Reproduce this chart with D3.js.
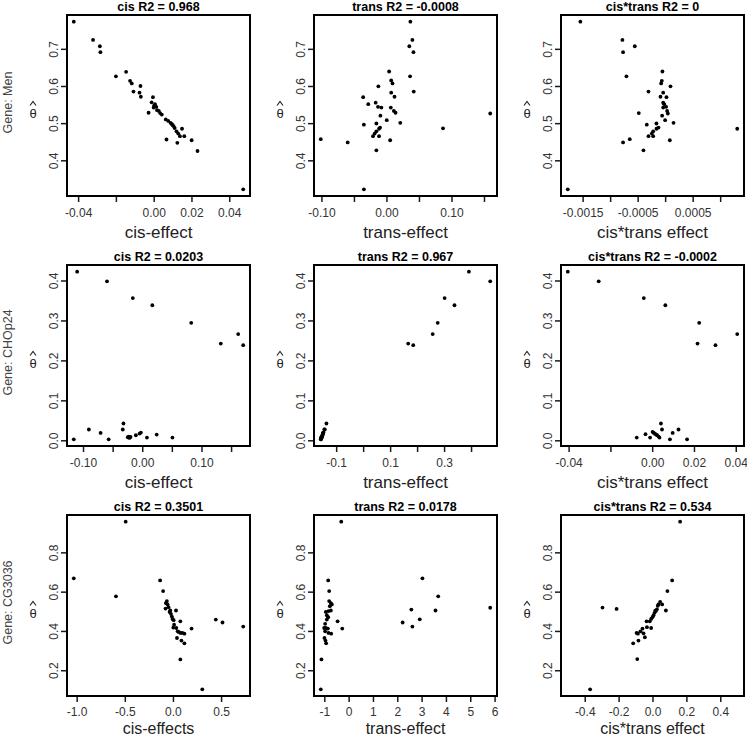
<!DOCTYPE html>
<html><head><meta charset="utf-8">
<script src="https://cdn.jsdelivr.net/npm/d3@7"></script>
<style>body{margin:0;background:#fff}svg{display:block;font-family:"Liberation Sans",Arial,sans-serif}</style>
</head><body><svg id="c" width="747" height="737"></svg>
<script>
// ---------- Data ----------
const genes = ["Gene: Men", "Gene: CHOp24", "Gene: CG3036"];
const titles = [
  "cis R2 = 0.968", "trans R2 = -0.0008", "cis*trans R2 = 0",
  "cis R2 = 0.0203", "trans R2 = 0.967", "cis*trans R2 = -0.0002",
  "cis R2 = 0.3501", "trans R2 = 0.0178", "cis*trans R2 = 0.534"
];
const xLabels = [
  "cis-effect", "trans-effect", "cis*trans effect",
  "cis-effect", "trans-effect", "cis*trans effect",
  "cis-effects", "trans-effect", "cis*trans effect"
];

// Gene Men
const menCisX = [-0.0423,-0.0321,-0.0285,-0.0282,-0.0200,-0.0146,-0.0125,-0.0116,-0.0107,-0.0070,-0.0075,-0.0068,-0.0027,-0.0004,-0.0011,0.0007,0.0014,0.0000,0.0018,0.0027,0.0043,0.0064,0.0077,0.0089,0.0100,0.0111,0.0121,0.0130,0.0139,0.0150,0.0162,0.0068,0.0125,0.0201,0.0232,0.0474,0.0034,0.0095,0.0105,0.0002];
const menCisY = [0.773,0.724,0.707,0.691,0.626,0.638,0.614,0.607,0.585,0.600,0.582,0.571,0.528,0.570,0.556,0.551,0.544,0.542,0.535,0.533,0.523,0.510,0.506,0.501,0.495,0.487,0.478,0.472,0.465,0.485,0.465,0.456,0.447,0.454,0.425,0.322,0.527,0.498,0.492,0.547];
const menTransX = [0.0368,0.0399,0.0352,0.0415,0.0041,0.0363,0.0073,0.0093,-0.0124,0.0420,0.0073,0.0124,-0.0358,-0.0166,-0.0280,-0.0130,-0.0078,0.0067,0.0114,0.0140,-0.0093,0.0005,0.0212,-0.0347,-0.0155,-0.0098,-0.0114,-0.0155,-0.0181,-0.0207,-0.0114,0.0057,-0.0596,-0.1010,-0.0155,-0.0347,0.0870,0.1596];
const menTransY = [0.773,0.724,0.707,0.691,0.639,0.626,0.615,0.607,0.599,0.585,0.582,0.571,0.570,0.555,0.551,0.544,0.542,0.542,0.533,0.528,0.520,0.508,0.501,0.496,0.499,0.488,0.485,0.478,0.472,0.465,0.465,0.454,0.448,0.457,0.427,0.322,0.486,0.526];
const menCtX = [-0.001541,-0.000777,-0.000552,-0.000765,-0.000704,-0.000049,-0.000061,-0.000073,0.000097,-0.000303,-0.000036,-0.000085,0.000024,-0.000036,-0.000018,0.000018,-0.000036,0.000036,0.000049,-0.000479,-0.000055,0.0,0.000152,-0.000334,-0.000158,-0.000121,-0.000158,-0.000218,-0.000243,-0.000218,-0.000303,0.000085,-0.000765,-0.000643,-0.000394,-0.00177,0.00131];
const menCtY = [0.773,0.724,0.707,0.691,0.626,0.639,0.614,0.607,0.599,0.585,0.582,0.571,0.570,0.555,0.551,0.544,0.542,0.533,0.526,0.527,0.520,0.508,0.501,0.496,0.499,0.488,0.485,0.478,0.472,0.465,0.465,0.454,0.448,0.457,0.427,0.322,0.485];

// Gene CHOp24
const chopCisX = [-0.1099,-0.0595,-0.0159,0.0170,0.0827,0.1326,0.1620,0.1705,-0.1156,-0.0901,-0.0703,-0.0567,-0.0317,-0.0329,-0.0244,-0.0227,-0.0215,-0.0198,-0.0108,-0.0045,-0.0023,0.0079,0.0244,0.0510];
const chopCisY = [0.422,0.398,0.356,0.338,0.294,0.242,0.266,0.238,0.0025,0.027,0.0185,0.0025,0.042,0.027,0.0076,0.0093,0.006,0.0084,0.0126,0.0168,0.0194,0.0067,0.0143,0.0067];
const chopTransX = [0.392,0.471,0.302,0.3385,0.2764,0.2578,0.167,0.1857,-0.157,-0.156,-0.155,-0.154,-0.156,-0.153,-0.154,-0.152,-0.151,-0.150,-0.149,-0.149,-0.147,-0.144,-0.142,-0.136];
const chopTransY = [0.422,0.398,0.356,0.338,0.294,0.266,0.242,0.238,0.0025,0.0025,0.006,0.0067,0.0067,0.0076,0.0084,0.0093,0.0126,0.0143,0.0168,0.0185,0.0194,0.027,0.027,0.042];
const chopCtX = [-0.0404,-0.0256,-0.0040,0.0063,0.0225,0.0217,0.0407,0.0303,-0.0074,-0.0032,-0.0010,0.0002,0.0008,0.0014,0.0019,0.0024,0.0031,0.0035,0.0042,0.0047,0.0085,0.0098,0.0126,0.0167];
const chopCtY = [0.422,0.398,0.356,0.338,0.294,0.242,0.266,0.238,0.0067,0.0152,0.0067,0.021,0.0185,0.016,0.0143,0.0126,0.0093,0.0067,0.042,0.027,0.0025,0.0185,0.027,0.0025];

// Gene CG3036
const cgCisX = [-0.491,-1.030,-0.592,-0.133,-0.102,-0.063,-0.074,-0.056,-0.077,-0.046,-0.028,0.032,-0.021,-0.011,-0.004,0.007,0.077,0.004,0.035,0.049,0.077,0.098,0.119,0.042,0.088,0.119,0.077,0.193,0.445,0.515,0.730,0.305,-0.035,0.012,0.060];
const cgCisY = [0.956,0.668,0.576,0.657,0.603,0.552,0.542,0.535,0.514,0.521,0.504,0.504,0.487,0.473,0.461,0.455,0.449,0.417,0.415,0.398,0.390,0.390,0.386,0.364,0.351,0.337,0.255,0.412,0.458,0.443,0.422,0.103,0.497,0.432,0.395];
const cgTransX = [-0.303,-1.145,-1.117,-0.841,-0.800,-0.800,-0.731,-0.690,-0.772,-0.938,-0.828,-0.731,-0.897,-0.841,-0.897,-0.966,-1.007,-0.938,-0.855,-0.966,-0.828,-0.717,-0.993,-0.952,-0.924,-0.455,-0.262,2.221,2.579,2.621,2.924,3.034,3.572,3.683,5.821];
const cgTransY = [0.956,0.103,0.255,0.657,0.603,0.552,0.542,0.535,0.526,0.497,0.501,0.504,0.480,0.470,0.458,0.436,0.415,0.415,0.412,0.398,0.390,0.386,0.364,0.351,0.337,0.449,0.412,0.443,0.509,0.422,0.459,0.668,0.504,0.576,0.518];
const cgCtX = [0.163,-0.368,-0.295,-0.212,0.116,0.088,0.079,0.057,0.045,0.035,0.020,0.012,0.006,0.000,-0.008,-0.016,-0.035,-0.008,-0.033,-0.059,-0.071,-0.053,-0.086,-0.094,-0.045,-0.083,-0.114,-0.090,0.026,0.016,0.031];
const cgCtY = [0.956,0.103,0.519,0.512,0.657,0.603,0.504,0.535,0.548,0.535,0.501,0.492,0.480,0.470,0.461,0.449,0.449,0.415,0.419,0.412,0.398,0.388,0.386,0.390,0.368,0.351,0.337,0.257,0.510,0.503,0.528];
const cgCtXlim = [-0.5, 0.5];

// Tick values / labels
const xTicks = [
  [-0.04,-0.02,0,0.02,0.04],
  [-0.10,-0.05,0,0.05,0.10,0.15],
  [-0.0015,-0.001,-0.0005,0,0.0005,0.001],
  [-0.10,-0.05,0,0.05,0.10,0.15],
  [-0.1,0,0.1,0.2,0.3,0.4],
  [-0.04,-0.02,0,0.02,0.04],
  [-1.0,-0.5,0,0.5],
  [-1,0,1,2,3,4,5,6],
  [-0.4,-0.2,0,0.2,0.4]
];
const xTickLabels = [
  ["-0.04","","0.00","0.02","0.04"],
  ["-0.10","","0.00","","0.10",""],
  ["-0.0015","","-0.0005","","0.0005",""],
  ["-0.10","","0.00","","0.10",""],
  ["-0.1","","0.1","","0.3",""],
  ["-0.04","","0.00","0.02","0.04"],
  ["-1.0","-0.5","0.0","0.5"],
  ["-1","0","1","2","3","4","5","6"],
  ["-0.4","-0.2","0.0","0.2","0.4"]
];
const yTicks = [[0.4,0.5,0.6,0.7],[0,0.1,0.2,0.3,0.4],[0.2,0.4,0.6,0.8]];
const yTickLabels = [["0.4","0.5","0.6","0.7"],["0.0","0.1","0.2","0.3","0.4"],["0.2","0.4","0.6","0.8"]];

// ---------- Layout ----------
const colLeft = [67, 314, 561], panelW = 183;
const rowTop = [15, 265, 515], panelH = 181;
const H = 737;

const panelX = [menCisX, menTransX, menCtX, chopCisX, chopTransX, chopCtX, cgCisX, cgTransX, cgCtX];
const panelY = [menCisY, menTransY, menCtY, chopCisY, chopTransY, chopCtY, cgCisY, cgTransY, cgCtY];
const panelXlim = [null,null,null,null,null,null,null,null,cgCtXlim];

function pad(ext){ const r = ext[1]-ext[0]; return [ext[0]-0.04*r, ext[1]+0.04*r]; }

const svg = d3.select("#c");
const ink = "#1a1a1a";
const FONT = "Liberation Sans, Arial, sans-serif";

for (let r = 0; r < 3; r++) {
  const rowY = d3.merge([panelY[r*3], panelY[r*3+1], panelY[r*3+2]]);
  const yDom = pad(d3.extent(rowY));
  const lastRow = (r === 2);
  for (let c = 0; c < 3; c++) {
    const i = r*3 + c;
    const L = colLeft[c], T = rowTop[r], R = L + panelW, B = T + panelH;
    const xDom = pad(panelXlim[i] || d3.extent(panelX[i]));
    const x = d3.scaleLinear().domain(xDom).range([L, R]);
    const y = d3.scaleLinear().domain(yDom).range([B, T]);
    const g = svg.append("g");

    // points
    g.selectAll("circle").data(d3.range(panelX[i].length)).join("circle")
      .attr("cx", k => x(panelX[i][k])).attr("cy", k => y(panelY[i][k]))
      .attr("r", 1.9).attr("fill", "#000");

    // x axis
    const xa = g.append("g").attr("transform", `translate(0,${B})`)
      .call(d3.axisBottom(x).tickValues(xTicks[i]).tickSize(6).tickSizeOuter(0)
        .tickFormat((d, k) => xTickLabels[i][k]));
    xa.select(".domain").remove();
    xa.selectAll("line").attr("stroke", ink).attr("stroke-width", 1.5);
    xa.selectAll("text").attr("y", 0).attr("dy", 0)
      .attr("transform", `translate(0,${lastRow ? 20 : 21})`)
      .attr("font-size", 12).attr("font-family", FONT).attr("fill", "#333");

    // y axis
    const ya = g.append("g").attr("transform", `translate(${L},0)`)
      .call(d3.axisLeft(y).tickValues(yTicks[r]).tickSize(6).tickSizeOuter(0)
        .tickFormat((d, k) => yTickLabels[r][k]));
    ya.select(".domain").remove();
    ya.selectAll("line").attr("stroke", ink).attr("stroke-width", 1.5);
    ya.selectAll("text").attr("x", 0).attr("dy", 0).attr("transform", "translate(-9,0) rotate(-90)")
      .attr("text-anchor", "middle")
      .attr("font-size", 12).attr("font-family", FONT).attr("fill", "#333");

    // box
    g.append("rect").attr("x", L).attr("y", T).attr("width", panelW).attr("height", panelH)
      .attr("fill", "none").attr("stroke", "#000").attr("stroke-width", 2);

    // title
    g.append("text").attr("x", (L+R)/2).attr("y", T - 4).attr("text-anchor", "middle")
      .attr("font-weight", "bold").attr("font-size", 12.5).attr("fill", "#000").text(titles[i]);

    // x label
    g.append("text").attr("x", (L+R)/2).attr("y", lastRow ? H - 3.5 : B + 42).attr("text-anchor", "middle")
      .attr("font-size", lastRow ? 16 : 17).attr("fill", "#222").text(xLabels[i]);

    // theta-hat label (theta as text, hat accent as a small chevron above it)
    const cy = (T+B)/2, tx = L - 34;
    g.append("text").attr("x", tx).attr("y", cy + 12).attr("text-anchor", "middle")
      .attr("font-size", 13).attr("fill", "#222").text("θ");
    g.append("path")
      .attr("d", d3.line()([[tx - 3, cy], [tx, cy - 4], [tx + 3, cy]]))
      .attr("fill", "none").attr("stroke", "#222").attr("stroke-width", 1.1);

    if (c === 0) {
      g.append("text").attr("transform", `translate(12,${cy - 3}) rotate(-90)`)
        .attr("text-anchor", "middle").attr("font-size", 12.5).attr("fill", "#444").text(genes[r]);
    }
  }
}
</script></body></html>
